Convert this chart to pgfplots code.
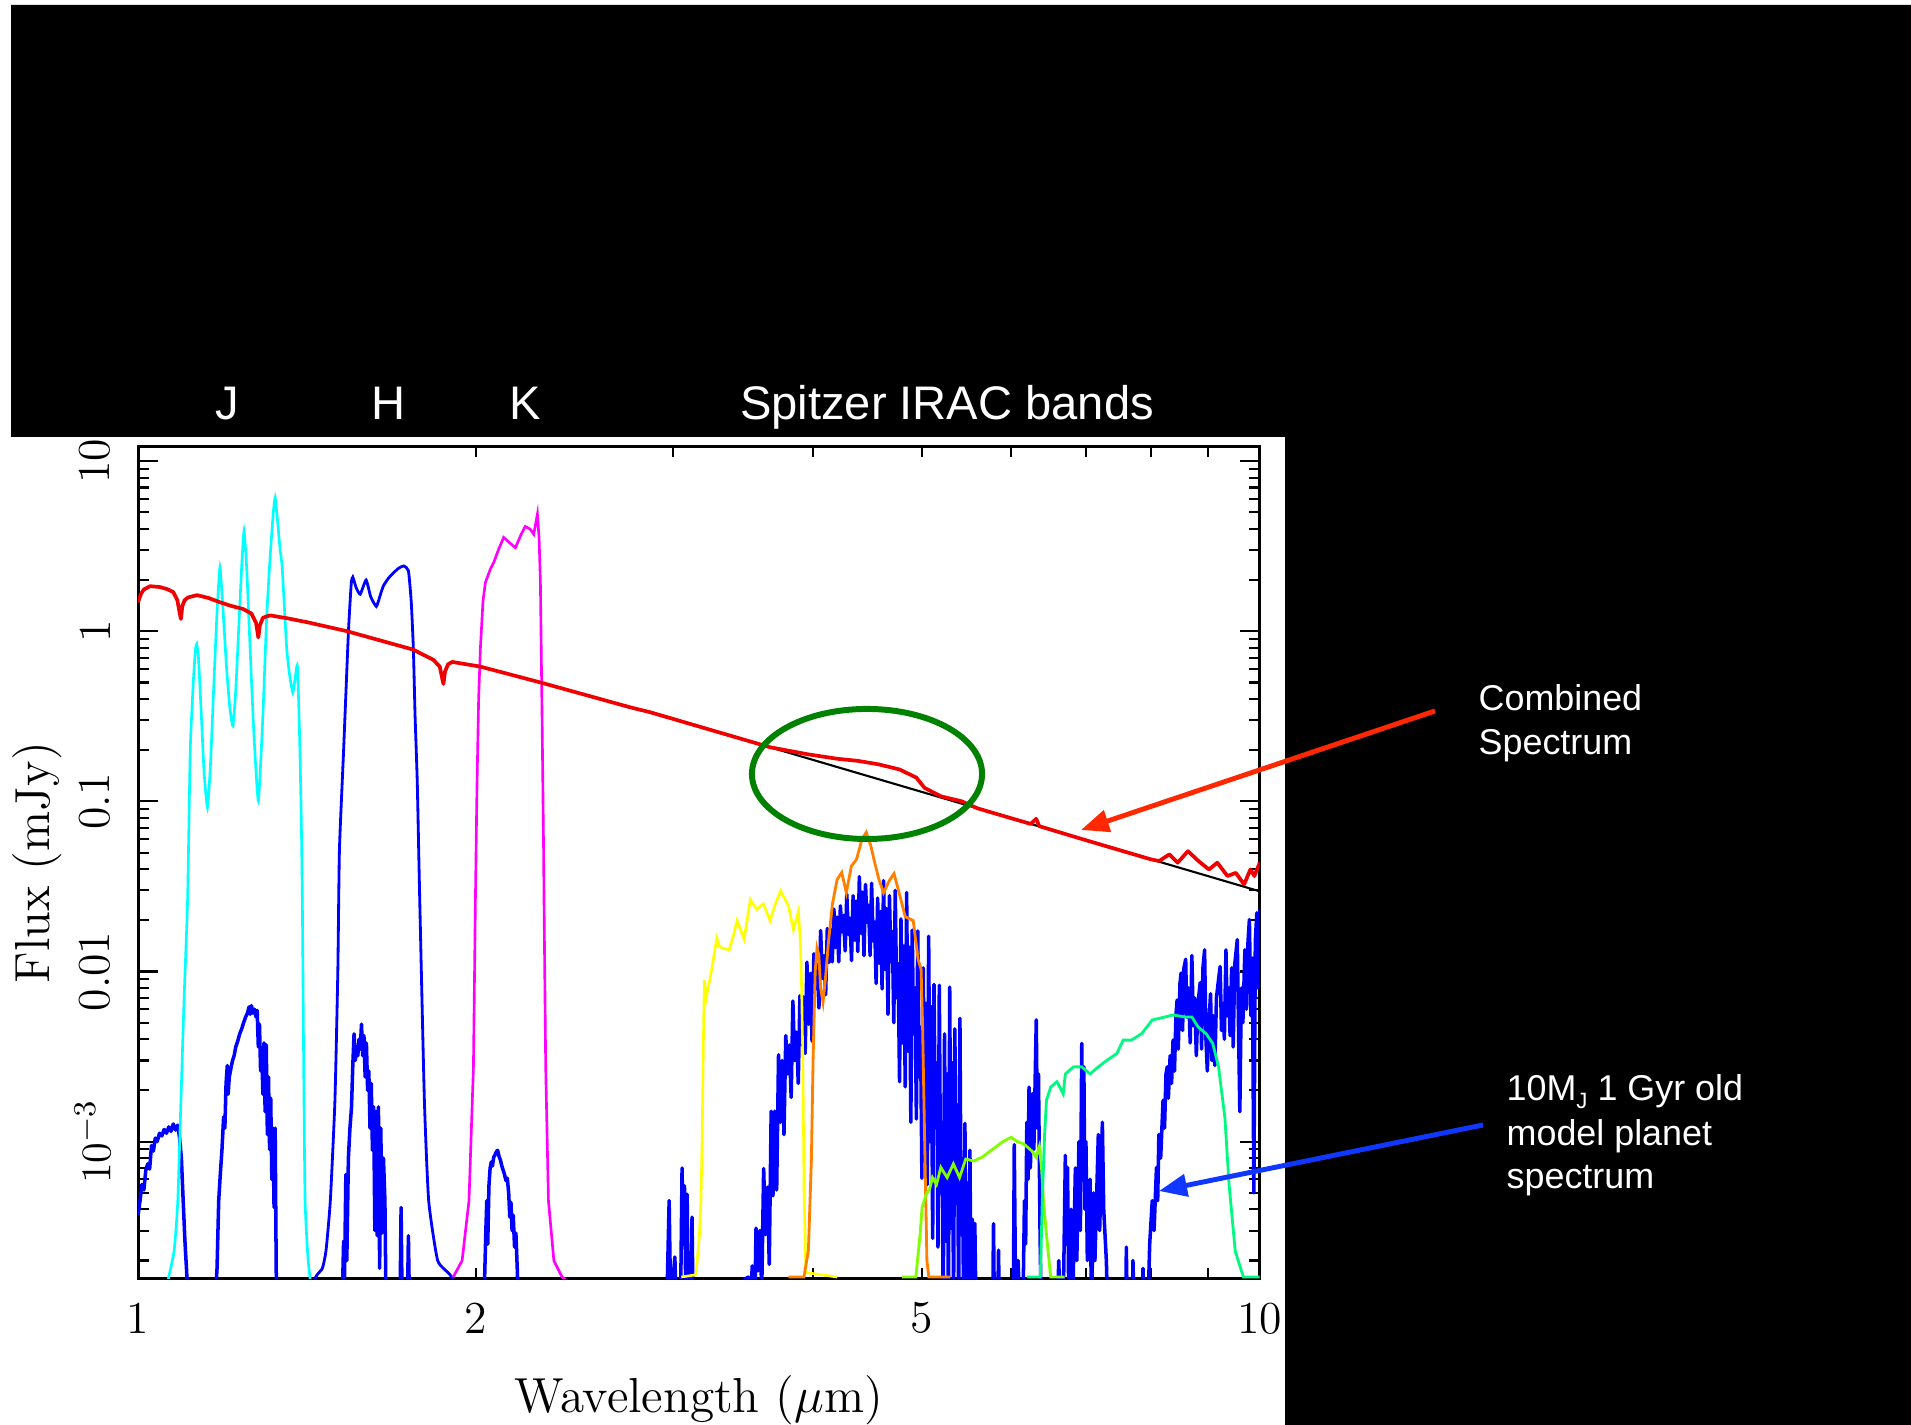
\documentclass[border=0pt]{standalone}
\usepackage{fontspec}
\usepackage{pgfplots}
\pgfplotsset{compat=1.18}
\usetikzlibrary{arrows.meta}
\newfontfamily\annot{Liberation Sans}
\definecolor{planetblue}{RGB}{0,0,255}
\definecolor{filtcyan}{RGB}{0,255,255}
\definecolor{filtblue}{RGB}{0,0,255}
\definecolor{filtmag}{RGB}{255,0,255}
\definecolor{filtyel}{RGB}{255,255,0}
\definecolor{filtorange}{RGB}{255,128,0}
\definecolor{filtlime}{RGB}{128,255,0}
\definecolor{filtspring}{RGB}{0,250,128}
\definecolor{specred}{RGB}{240,0,0}
\definecolor{arrowred}{RGB}{255,40,0}
\definecolor{arrowblue}{RGB}{15,55,255}
\definecolor{ringgreen}{RGB}{0,130,0}
\newcommand\axfont{\fontsize{14}{17}\selectfont}
\begin{document}
\begin{tikzpicture}
% slide background with the white plot panel
\begin{scope}[x=0.01cm,y=0.01cm]
\fill[white] (0,0) rectangle (1911,1425);
\fill[black] (11,1420) -- (1911,1420) -- (1911,0) -- (1285,0) -- (1285,988) -- (11,988) -- cycle;
\end{scope}

\begin{axis}[
  at={(1.38cm,1.46cm)}, anchor=south west,
  scale only axis, width=11.21cm, height=8.32cm,
  xmode=log, ymode=log,
  xmin=1, xmax=10, ymin=1.56e-4, ymax=12.2,
  axis line style={line width=0.85pt},
  xtick={1,2,5,10}, xticklabels={1,2,5,10},
  minor xtick={3,4,6,7,8,9},
  ytick={1e-3,0.01,0.1,1,10},
  yticklabels={$10^{-3}$,0.01,0.1,1,10},
  minor ytick={2e-4,3e-4,4e-4,5e-4,6e-4,7e-4,8e-4,9e-4,2e-3,3e-3,4e-3,5e-3,6e-3,7e-3,8e-3,9e-3,0.02,0.03,0.04,0.05,0.06,0.07,0.08,0.09,0.2,0.3,0.4,0.5,0.6,0.7,0.8,0.9,2,3,4,5,6,7,8,9},
  major tick length=0.2cm, minor tick length=0.11cm,
  xtick style={/pgfplots/major tick length=0.11cm},
  tick style={black, line width=0.6pt},
  tick align=inside,
  tick label style={font=\fontsize{13}{15}\selectfont},
  xticklabel style={anchor=north, inner sep=0pt, yshift=-0.23cm},
  yticklabel style={rotate=90, anchor=south, inner sep=0pt},
  yticklabel shift=0.27cm,
  xlabel={Wavelength ($\mu$m)},
  ylabel={Flux (mJy)},
  xlabel style={at={(axis description cs:0.5,-0.16)}, anchor=base, font=\axfont, inner sep=0pt},
  ylabel style={at={(axis description cs:-0.0794,0.5)}, anchor=base, font=\axfont, inner sep=0pt},
]

% model planet spectrum
\addplot[planetblue, line width=1.0pt, line join=round] coordinates {
(1.000,3.7e-4) (1.004,4.5e-4) (1.008,5.6e-4) (1.012,5.2e-4) (1.016,6.8e-4) (1.020,7.4e-4) (1.024,6.9e-4) (1.028,9.5e-4) (1.032,8.8e-4) (1.036,1.05e-3) (1.040,1.0e-3) (1.045,1.12e-3) (1.050,1.08e-3) (1.055,1.18e-3) (1.060,1.12e-3) (1.065,1.22e-3) (1.070,1.15e-3) (1.075,1.27e-3) (1.080,1.17e-3) (1.085,1.25e-3) (1.089,1.05e-3) (1.093,8.0e-4) (1.097,4.5e-4) (1.101,2.6e-4) (1.105,1.7e-4) (1.108,1.0e-4)
(1.170,1.0e-4) (1.176,1.8e-4) (1.180,4.5e-4) (1.184,6.5e-4) (1.188,9.0e-4) (1.192,1.4e-3) (1.195,1.2e-3) (1.198,2.2e-3) (1.201,2.8e-3) (1.203,1.9e-3) (1.206,2.4e-3) (1.210,2.7e-3) (1.214,3.0e-3) (1.218,3.2e-3) (1.222,3.6e-3) (1.227,3.9e-3) (1.232,4.3e-3) (1.237,4.6e-3) (1.242,5.0e-3) (1.247,5.4e-3) (1.252,5.7e-3) (1.256,6.2e-3) (1.259,5.6e-3) (1.262,6.3e-3) (1.266,5.7e-3) (1.270,6.0e-3) (1.274,5.4e-3) (1.277,5.9e-3) (1.280,3.6e-3) (1.283,4.9e-3) (1.286,2.6e-3) (1.289,3.4e-3) (1.292,1.9e-3) (1.295,3.8e-3) (1.298,1.5e-3) (1.301,3.7e-3) (1.304,1.1e-3) (1.307,2.4e-3) (1.310,9.0e-4) (1.313,1.8e-3) (1.316,6.0e-4) (1.319,1.2e-3) (1.322,4.1e-4) (1.325,1.2e-3) (1.328,1.7e-4) (1.331,1.0e-4)
(1.520,1.0e-4) (1.525,2.6e-4) (1.528,1.6e-4) (1.532,6.4e-4) (1.535,2.0e-4) (1.540,8.0e-4) (1.545,1.2e-3) (1.550,1.6e-3) (1.554,2.8e-3) (1.558,4.3e-3) (1.562,3.0e-3) (1.566,3.6e-3) (1.570,3.2e-3) (1.574,4.0e-3) (1.578,3.5e-3) (1.582,4.9e-3) (1.586,3.2e-3) (1.590,4.2e-3) (1.594,2.4e-3) (1.598,3.8e-3) (1.602,2.0e-3) (1.606,2.6e-3) (1.610,1.2e-3) (1.614,2.2e-3) (1.618,8.9e-4) (1.622,1.6e-3) (1.626,3.0e-4) (1.630,1.5e-3) (1.634,2.8e-4) (1.638,1.6e-3) (1.642,1.8e-4) (1.646,1.2e-3) (1.650,2.9e-4) (1.655,8.0e-4) (1.660,4.5e-4) (1.664,1.0e-4) (1.712,1.0e-4) (1.716,4.1e-4) (1.720,1.0e-4) (1.738,1.0e-4) (1.742,2.8e-4) (1.746,1.0e-4)
(2.030,1.0e-4) (2.037,1.6e-4) (2.042,3.0e-4) (2.046,4.5e-4) (2.050,2.5e-4) (2.055,5.5e-4) (2.060,7.0e-4) (2.065,7.6e-4) (2.070,7.2e-4) (2.075,8.1e-4) (2.080,8.3e-4) (2.086,8.7e-4) (2.092,8.9e-4) (2.098,8.2e-4) (2.104,7.8e-4) (2.110,7.2e-4) (2.116,6.8e-4) (2.122,6.4e-4) (2.128,5.9e-4) (2.134,6.1e-4) (2.140,5.0e-4) (2.145,3.6e-4) (2.150,4.4e-4) (2.155,3.0e-4) (2.160,3.7e-4) (2.166,2.4e-4) (2.172,2.9e-4) (2.178,1.8e-4) (2.184,1.0e-4)
(2.960,1.0e-4) (2.975,4.5e-4) (2.985,1.0e-4) (3.000,1.6e-4) (3.010,2.1e-4) (3.020,1.0e-4) (3.045,1.0e-4) (3.055,7.0e-4) (3.062,2.5e-4) (3.070,5.5e-4) (3.080,1.0e-4) (3.087,4.9e-4) (3.095,1.0e-4) (3.112,1.0e-4) (3.118,3.6e-4) (3.125,1.0e-4)
(3.500,1.6e-4) (3.514,6.9e-5) (3.528,1.86e-4) (3.542,6e-5) (3.556,3.1e-4) (3.570,1.74e-4) (3.584,3.0e-4) (3.598,1.34e-4) (3.612,6.95e-4) (3.626,2.84e-4) (3.640,5.4e-4) (3.654,1.9e-4) (3.668,1.51e-3) (3.682,4.8e-4) (3.696,1.51e-3) (3.710,5.2e-4) (3.724,3.24e-3) (3.738,1.3e-3) (3.752,3.0e-3) (3.766,1.1e-3) (3.780,4.2e-3) (3.794,2.5e-3) (3.808,3.7e-3) (3.822,1.82e-3) (3.836,6.7e-3) (3.850,3.0e-3) (3.864,4.4e-3) (3.878,2.2e-3) (3.892,7.2e-3) (3.906,3.7e-3) (3.920,7.1e-3) (3.934,3.3e-3) (3.948,0.01135) (3.962,4.9e-3) (3.976,9.75e-3) (3.990,3.9e-3) (4.004,0.0127) (4.018,7.9e-3) (4.032,0.011) (4.046,6.1e-3) (4.060,0.0174) (4.074,9.1e-3) (4.088,0.0124) (4.102,7.3e-3) (4.116,0.0179) (4.130,0.0113) (4.144,0.0177) (4.158,0.0114) (4.172,0.0233) (4.186,0.0138) (4.200,0.0209) (4.214,0.0114) (4.228,0.0243) (4.242,0.0171) (4.256,0.0213) (4.270,0.0132) (4.284,0.0285) (4.298,0.0165) (4.312,0.0206) (4.326,0.0116) (4.340,0.0279) (4.354,0.0153) (4.368,0.0259) (4.382,0.0131) (4.396,0.0361) (4.410,0.0168) (4.424,0.0293) (4.438,0.0124) (4.452,0.0325) (4.466,0.0195) (4.480,0.0245) (4.494,0.0124) (4.508,0.033) (4.522,0.0151) (4.536,0.0195) (4.550,8.5e-3) (4.564,0.027) (4.578,0.0112) (4.592,0.0225) (4.606,7.9e-3) (4.620,0.0342) (4.634,0.0103) (4.648,0.0234) (4.662,5.6e-3) (4.676,0.0279) (4.690,0.0114) (4.704,0.0172) (4.718,5.0e-3) (4.732,0.030) (4.746,7.0e-3) (4.760,0.0111) (4.774,2.25e-3) (4.788,0.0204) (4.802,3.8e-3) (4.816,0.0141) (4.830,2.1e-3) (4.844,0.0291) (4.858,3.4e-3) (4.872,0.0139) (4.886,1.3e-3) (4.900,0.0175) (4.914,4.3e-3) (4.928,8.0e-3) (4.942,1.36e-3) (4.956,0.0173) (4.970,2.4e-3) (4.984,4.7e-3) (4.998,6.1e-4) (5.012,0.0105) (5.026,1.24e-3) (5.040,6.5e-3) (5.054,5.6e-4) (5.068,0.0161) (5.082,1.0e-3) (5.096,6.2e-3) (5.110,2.7e-4) (5.124,8.4e-3) (5.138,1.26e-3) (5.152,2.9e-3) (5.166,2.4e-4) (5.180,8.3e-3) (5.194,5.0e-4) (5.208,1.3e-3) (5.222,1.0e-4) (5.236,4.3e-3) (5.250,2.6e-4) (5.264,2.5e-3) (5.278,1.0e-4) (5.292,8.1e-3) (5.306,3.1e-4) (5.320,2.9e-3) (5.334,1.0e-4) (5.348,4.6e-3) (5.362,6.1e-4) (5.376,1.64e-3) (5.390,1.0e-4) (5.404,5.3e-3) (5.418,3.0e-4) (5.432,6.5e-4) (5.446,1.0e-4) (5.460,1.28e-3) (5.474,1.0e-4) (5.488,5.7e-4) (5.502,1.0e-4) (5.516,8.9e-4) (5.530,1.0e-4) (5.544,3.5e-4) (5.558,1.0e-4) (5.572,3.3e-4) (5.586,1.0e-4)
(5.780,1.0e-4) (5.790,3.3e-4) (5.800,1.0e-4) (5.840,1.0e-4) (5.850,2.3e-4) (5.860,1.0e-4) (6.030,1.0e-4) (6.042,9.6e-4) (6.060,1.0e-4) (6.090,2.0e-4) (6.110,1.0e-4) (6.150,1.0e-4) (6.170,4.5e-4) (6.185,2.5e-4) (6.200,1.3e-3) (6.215,6.0e-4) (6.228,2.09e-3) (6.245,7.0e-4) (6.270,1.91e-3) (6.290,9.0e-4) (6.321,5.19e-3) (6.335,1.2e-3) (6.350,2.5e-3) (6.370,3.0e-4) (6.385,1.0e-4) (6.600,1.0e-4) (6.620,2.0e-4) (6.640,1.0e-4) (6.680,1.0e-4) (6.710,8.3e-4) (6.725,2.5e-4) (6.740,7.05e-4) (6.755,1.5e-4) (6.790,4.0e-4) (6.810,1.0e-4) (6.850,7.0e-4) (6.870,2.0e-4) (6.900,1.0e-3) (6.920,3.0e-4) (6.940,3.78e-3) (6.955,6.0e-4) (6.970,2.75e-3) (6.985,4.0e-4) (7.000,1.0e-3) (7.020,2.0e-4) (7.060,6.0e-4) (7.080,1.0e-4) (7.110,5.0e-4) (7.130,2.0e-4) (7.180,1.1e-3) (7.200,3.0e-4) (7.240,1.3e-3) (7.260,4.0e-4) (7.300,2.0e-4) (7.320,1.0e-4) (7.600,1.0e-4) (7.605,2.4e-4) (7.620,1.0e-4) (7.700,1.0e-4) (7.710,2.0e-4) (7.730,1.0e-4) (7.850,1.0e-4) (7.870,1.8e-4) (7.890,1.0e-4)
(7.950,1.0e-4) (7.980,2.5e-4) (8.020,4.5e-4) (8.050,3.0e-4) (8.090,7.05e-4) (8.110,4.5e-4) (8.130,1.1e-3) (8.160,8.0e-4) (8.200,1.75e-3) (8.225,1.2e-3) (8.250,2.5e-3) (8.270,2.75e-3) (8.290,1.8e-3) (8.320,3.2e-3) (8.345,2.2e-3) (8.370,3.95e-3) (8.395,2.6e-3) (8.420,5.5e-3) (8.440,6.8e-3) (8.460,3.5e-3) (8.490,8.5e-3) (8.510,9.8e-3) (8.535,4.5e-3) (8.560,0.0105) (8.590,0.0118) (8.610,5.4e-3) (8.640,8.0e-3) (8.670,3.8e-3) (8.700,0.0124) (8.725,4.8e-3) (8.750,7.0e-3) (8.780,3.2e-3) (8.810,6.5e-3) (8.850,8.6e-3) (8.875,3.5e-3) (8.900,0.0105) (8.930,0.0134) (8.955,4.0e-3) (8.980,2.6e-3) (9.010,5.0e-3) (9.040,7.4e-3) (9.065,3.0e-3) (9.090,5.5e-3) (9.120,2.8e-3) (9.150,7.0e-3) (9.190,9.0e-3) (9.220,0.0107) (9.245,4.5e-3) (9.270,6.5e-3) (9.300,4.0e-3) (9.330,0.0134) (9.355,5.5e-3) (9.380,8.0e-3) (9.410,4.2e-3) (9.440,0.0105) (9.470,3.6e-3) (9.500,0.0110) (9.550,0.0154) (9.575,4.5e-3) (9.600,1.5e-3) (9.630,8.0e-3) (9.660,5.0e-3) (9.700,0.0134) (9.730,6.0e-3) (9.760,0.0145) (9.790,0.0202) (9.820,5.5e-3) (9.850,0.0120) (9.880,5.0e-4) (9.910,0.0150) (9.940,0.0221) (9.960,8.0e-3) (9.980,0.0180) (10.00,0.0232)
};

% J filter
\addplot[filtcyan, line width=0.75pt, smooth, tension=0.3] coordinates {
(1.050,1.0e-4) (1.065,1.6e-4) (1.077,2.3e-4) (1.085,4.5e-4) (1.092,1.75e-3) (1.099,6.8e-3) (1.107,0.0265) (1.113,0.20) (1.120,0.50) (1.125,0.78) (1.128,0.84) (1.132,0.70) (1.138,0.35) (1.145,0.15) (1.153,0.092) (1.160,0.16) (1.168,0.47) (1.176,1.3) (1.183,2.37) (1.190,1.4) (1.199,0.62) (1.207,0.36) (1.215,0.277) (1.222,0.45) (1.230,1.1) (1.237,2.4) (1.243,3.89) (1.250,2.3) (1.258,0.85) (1.268,0.26) (1.280,0.1005) (1.292,0.32) (1.302,1.2) (1.311,2.65) (1.320,5.0) (1.325,6.11) (1.331,4.6) (1.338,3.1) (1.344,2.42) (1.351,1.3) (1.357,0.78) (1.365,0.55) (1.374,0.436) (1.380,0.52) (1.387,0.625) (1.393,0.25) (1.398,0.08) (1.401,0.0265) (1.405,2.75e-3) (1.409,4.5e-4) (1.418,2.0e-4) (1.435,1.0e-4)
};

% H filter
\addplot[filtblue, line width=0.8pt, smooth, tension=0.3] coordinates {
(1.400,1.0e-4) (1.440,1.6e-4) (1.460,1.8e-4) (1.471,2.3e-4) (1.484,4.5e-4) (1.498,1.75e-3) (1.507,0.01) (1.512,0.052) (1.525,0.2) (1.540,0.98) (1.549,1.9) (1.554,2.08) (1.565,1.8) (1.578,1.65) (1.597,2.0) (1.612,1.6) (1.631,1.40) (1.645,1.65) (1.655,1.85) (1.672,2.05) (1.690,2.21) (1.708,2.35) (1.725,2.42) (1.742,2.27) (1.752,1.5) (1.760,0.78) (1.766,0.318) (1.774,0.129) (1.783,0.0265) (1.800,1.75e-3) (1.816,4.5e-4) (1.850,2.0e-4) (1.901,1.62e-4) (1.960,1.0e-4)
};

% K filter
\addplot[filtmag, line width=0.75pt] coordinates {
(1.910,1.6e-4) (1.945,2.0e-4) (1.973,4.5e-4) (1.991,2.75e-3) (1.999,0.0265) (2.005,0.12) (2.012,0.40) (2.019,0.78) (2.030,1.5) (2.040,1.93) (2.061,2.32) (2.075,2.53) (2.095,3.0) (2.118,3.56) (2.145,3.3) (2.170,3.1) (2.195,3.7) (2.214,4.13) (2.237,3.98) (2.253,3.72) (2.270,4.88) (2.278,3.5) (2.284,1.93) (2.292,0.3) (2.299,0.052) (2.301,0.0265) (2.309,2.75e-3) (2.322,4.5e-4) (2.348,2.0e-4) (2.388,1.6e-4) (2.420,1.5e-4)
};

% IRAC 3.6 micron
\addplot[filtyel, line width=0.75pt] coordinates {
(3.050,1.6e-4) (3.144,1.65e-4) (3.166,2.85e-4) (3.176,4.5e-4) (3.184,1.1e-3) (3.192,4e-3) (3.198,8.9e-3) (3.212,7.1e-3) (3.246,0.0102) (3.281,0.0157) (3.300,0.0140) (3.322,0.0137) (3.365,0.0134) (3.394,0.0162) (3.420,0.0199) (3.470,0.0155) (3.515,0.0265) (3.560,0.0232) (3.610,0.025) (3.660,0.0199) (3.700,0.025) (3.740,0.0297) (3.800,0.0244) (3.840,0.0176) (3.880,0.0226) (3.895,0.0150) (3.905,8.0e-3) (3.915,3.0e-3) (3.925,5.0e-4) (3.940,1.7e-4) (4.200,1.6e-4)
};

% IRAC 4.5 micron
\addplot[filtorange, line width=0.8pt] coordinates {
(3.800,1.6e-4) (3.924,1.6e-4) (3.960,2.3e-4) (3.985,8.0e-4) (3.998,3.0e-3) (4.015,0.010) (4.030,0.0137) (4.045,0.0125) (4.060,8.0e-3) (4.080,6.6e-3) (4.100,9.0e-3) (4.125,0.0147) (4.160,0.025) (4.200,0.0347) (4.240,0.0382) (4.280,0.0291) (4.325,0.0417) (4.370,0.0455) (4.420,0.060) (4.459,0.0657) (4.500,0.055) (4.530,0.0455) (4.575,0.035) (4.620,0.029) (4.672,0.034) (4.720,0.0376) (4.770,0.029) (4.830,0.021) (4.910,0.0199) (4.960,0.0117) (4.990,0.0103) (5.005,4.8e-3) (5.030,7.9e-4) (5.050,2.0e-4) (5.070,1.6e-4) (5.300,1.6e-4)
};

% IRAC 5.8 micron
\addplot[filtlime, line width=0.8pt] coordinates {
(4.800,1.6e-4) (4.936,1.6e-4) (4.980,2.85e-4) (5.000,4.1e-4) (5.043,4.9e-4) (5.080,5.3e-4) (5.108,6.15e-4) (5.150,5.6e-4) (5.196,7.05e-4) (5.264,6.15e-4) (5.332,7.4e-4) (5.400,6.15e-4) (5.469,7.9e-4) (5.560,7.7e-4) (5.656,8.1e-4) (5.803,9.2e-4) (5.900,1.0e-3) (6.004,1.06e-3) (6.080,1.0e-3) (6.160,9.7e-4) (6.266,8.8e-4) (6.318,8.1e-4) (6.362,9.4e-4) (6.390,7.0e-4) (6.415,4.5e-4) (6.455,2.85e-4) (6.511,1.6e-4) (6.700,1.6e-4)
};

% IRAC 8.0 micron
\addplot[filtspring, line width=0.8pt] coordinates {
(6.200,1.6e-4) (6.374,1.6e-4) (6.400,4.5e-4) (6.430,1.1e-3) (6.455,1.75e-3) (6.511,2.09e-3) (6.596,2.25e-3) (6.680,1.91e-3) (6.710,2.5e-3) (6.823,2.75e-3) (6.940,2.75e-3) (7.060,2.5e-3) (7.180,2.75e-3) (7.305,3.0e-3) (7.460,3.3e-3) (7.556,3.95e-3) (7.685,3.95e-3) (7.852,4.32e-3) (8.020,5.19e-3) (8.230,5.4e-3) (8.370,5.55e-3) (8.590,5.4e-3) (8.700,5.4e-3) (8.810,4.73e-3) (8.960,4.3e-3) (9.080,3.78e-3) (9.190,2.75e-3) (9.310,1.38e-3) (9.390,5.6e-4) (9.510,2.27e-4) (9.670,1.6e-4) (10.00,1.6e-4)
};

% stellar continuum
\addplot[black, line width=0.6pt] coordinates {
(2.862,0.334) (3.66,0.208) (10.0,0.0296)
};

% star + planet
\addplot[specred, line width=1.05pt, line join=round] coordinates {
(1.000,1.48) (1.006,1.66) (1.012,1.76) (1.025,1.84) (1.045,1.82) (1.061,1.77) (1.075,1.70) (1.084,1.52) (1.090,1.25) (1.092,1.18) (1.095,1.40) (1.100,1.52) (1.108,1.58) (1.129,1.63) (1.155,1.57) (1.183,1.48) (1.210,1.41) (1.241,1.35) (1.262,1.27) (1.274,1.12) (1.280,0.92) (1.284,1.08) (1.292,1.20) (1.311,1.24) (1.360,1.19) (1.415,1.13) (1.536,1.0) (1.654,0.873) (1.759,0.78) (1.833,0.68) (1.858,0.62) (1.868,0.52) (1.872,0.49) (1.878,0.58) (1.890,0.64) (1.906,0.66) (2.018,0.62) (2.284,0.50) (2.747,0.357) (2.862,0.334) (3.66,0.208) (3.957,0.189) (4.201,0.178) (4.383,0.173) (4.574,0.165) (4.774,0.154) (4.941,0.138) (5.026,0.120) (5.199,0.107) (5.426,0.100) (5.600,0.0911) (6.000,0.0797) (6.250,0.0737) (6.320,0.079) (6.360,0.0715) (7.000,0.0591) (7.500,0.0517) (8.000,0.0456) (8.134,0.0446) (8.307,0.0488) (8.450,0.0436) (8.630,0.0510) (8.818,0.0446) (9.010,0.0398) (9.166,0.0436) (9.360,0.0364) (9.520,0.0380) (9.685,0.0325) (9.810,0.0398) (9.890,0.0364) (10.00,0.0436)
};
\end{axis}

\begin{scope}[x=0.01cm,y=0.01cm]
% highlight of the 4.5 micron excess
\draw[ringgreen, line width=1.7pt] (867,651) ellipse [x radius=1.15cm, y radius=0.65cm];

% band names
\begin{scope}[every node/.style={text=white, inner sep=0pt, font=\annot\fontsize{13.4}{16}\selectfont}]
\node[anchor=base] at (227,1005) {J};
\node[anchor=base] at (389,1005) {H};
\node[anchor=base] at (525,1005) {K};
\node[anchor=base] at (947,1005) {Spitzer IRAC bands};
\end{scope}

% callouts
\draw[arrowred, line width=1.4pt, -{Triangle[length=0.28cm, width=0.22cm]}] (1435,714) -- (1081,595);
\draw[arrowblue, line width=1.4pt, -{Triangle[length=0.28cm, width=0.22cm]}] (1483,300) -- (1159,234);
\begin{scope}[every node/.style={text=white, inner sep=0pt, anchor=base west, font=\annot\fontsize{10.2}{12}\selectfont}]
\node at (1478,714) {Combined};
\node at (1478,670) {Spectrum};
\node at (1506,324) {10M\raisebox{-0.22em}{\fontsize{6.3}{7}\selectfont J} 1 Gyr old};
\node at (1506,279) {model planet};
\node at (1506,236) {spectrum};
\end{scope}

\pgfresetboundingbox
\path[use as bounding box] (0,0) rectangle (1911,1425);
\end{scope}
\end{tikzpicture}
\end{document}
